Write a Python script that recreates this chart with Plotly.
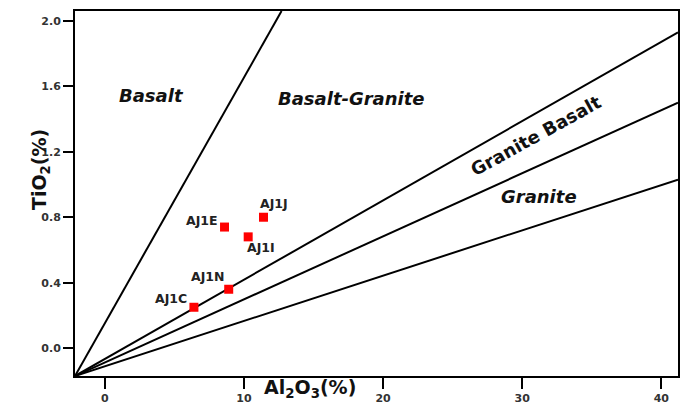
import plotly.graph_objects as go

# Sample data
samples = ["AJ1C", "AJ1N", "AJ1E", "AJ1I", "AJ1J"]
al2o3 = [6.4, 8.9, 8.6, 10.3, 11.4]
tio2 = [0.25, 0.36, 0.74, 0.68, 0.80]

# Discrimination boundary lines (start and end points)
origin_x, origin_y = -2.15, -0.17
line_names = ["Basalt / Basalt-Granite", "Basalt-Granite / Granite Basalt",
              "Granite Basalt / Granite", "Granite lower"]
line_end_x = [12.7, 41.2, 41.2, 41.2]
line_end_y = [2.06, 1.93, 1.50, 1.03]

# Field labels
field_text = ["<b><i>Basalt</i></b>", "<b><i>Basalt-Granite</i></b>",
              "<b>Granite Basalt</b>", "<b><i>Granite</i></b>"]
field_x = [3.37, 17.7, 31.0, 31.2]
field_y = [1.545, 1.527, 1.30, 0.928]
field_angle = [0, 0, -29, 0]

x_ticks = [0, 10, 20, 30, 40]
y_ticks = [0.0, 0.4, 0.8, 1.2, 1.6, 2.0]

FONT = "DejaVu Sans, Verdana, sans-serif"

fig = go.Figure()
for i, name in enumerate(line_names):
    fig.add_trace(go.Scatter(x=[origin_x, line_end_x[i]], y=[origin_y, line_end_y[i]],
                             mode="lines", line=dict(color="black", width=2),
                             name=name, showlegend=False, hoverinfo="skip"))

fig.add_trace(go.Scatter(x=al2o3, y=tio2, mode="markers",
                         marker=dict(symbol="square", size=9, color="#ff0000"),
                         showlegend=False, text=samples))

# point label offsets (px)
offs = {"AJ1C": (-23, 9), "AJ1N": (-21, 13), "AJ1E": (-23, 7), "AJ1I": (13, -11), "AJ1J": (11, 14)}
for s, x, y in zip(samples, al2o3, tio2):
    dx, dy = offs[s]
    fig.add_annotation(x=x, y=y, text="<b>%s</b>" % s, showarrow=False, xshift=dx, yshift=dy,
                       font=dict(family=FONT, size=12.5, color="#222"))

for t, x, y, a in zip(field_text, field_x, field_y, field_angle):
    fig.add_annotation(x=x, y=y, text=t, showarrow=False, textangle=a,
                       font=dict(family=FONT, size=18, color="#111"))

fig.add_annotation(xref="paper", yref="paper", x=0.39, y=-0.074,
                   text="<b>Al<sub>2</sub>O<sub>3</sub>(%)</b>", showarrow=False,
                   font=dict(family=FONT, size=19, color="#111"))
fig.add_annotation(xref="paper", yref="paper", x=-0.081, y=0.566,
                   text="<b>TiO<sub>2</sub>(%)</b>", showarrow=False, textangle=-90,
                   font=dict(family=FONT, size=19, color="#111"))

fig.update_layout(
    width=689, height=420,
    margin=dict(l=75, r=9, t=10, b=44),
    paper_bgcolor="white", plot_bgcolor="white",
    xaxis=dict(range=[-2.15, 41.2], tickvals=x_ticks, ticks="outside", ticklen=11, tickwidth=2,
               tickcolor="black", showgrid=False, zeroline=False, showline=True, linecolor="black",
               linewidth=2, mirror=True,
               tickfont=dict(family=FONT, size=11, color="#333", weight="bold")),
    yaxis=dict(range=[-0.17, 2.06], tickvals=y_ticks, tickformat=".1f", ticks="outside", ticklen=10,
               tickwidth=2, tickcolor="black", showgrid=False, zeroline=False, showline=True,
               linecolor="black", linewidth=2, mirror=True,
               tickfont=dict(family=FONT, size=11, color="#333", weight="bold")),
)

fig.write_html("out.html", config={"displayModeBar": False},
               post_script="document.body.style.margin='0';")
